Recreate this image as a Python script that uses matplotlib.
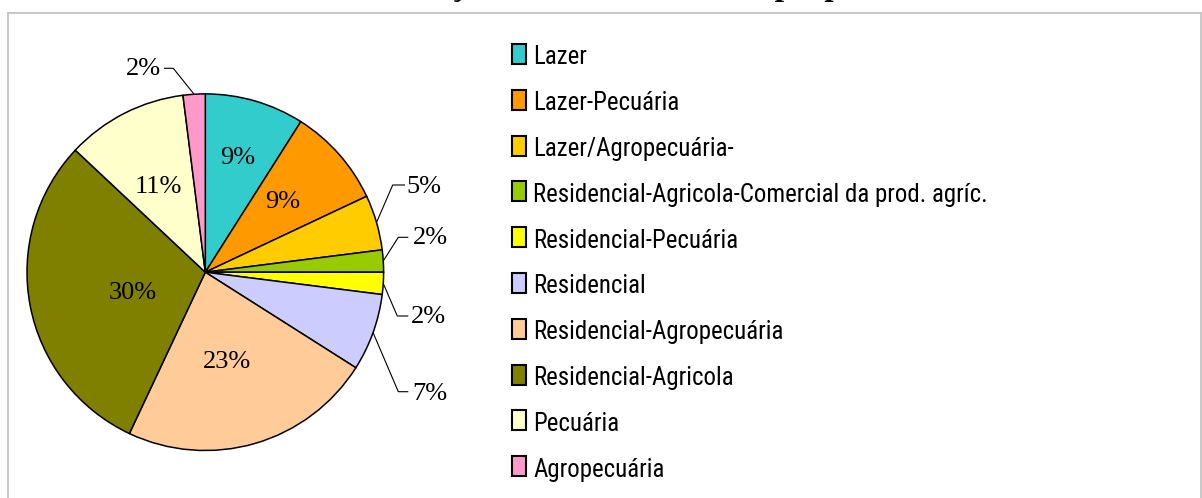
import matplotlib
matplotlib.use("Agg")
import os
import numpy as np
import matplotlib.pyplot as plt
from matplotlib import font_manager
from matplotlib.font_manager import FontProperties
from matplotlib.patches import Rectangle

# ---------------- data ----------------
categories = ["Lazer", "Lazer-Pecuária", "Lazer/Agropecuária-",
              "Residencial-Agricola-Comercial da prod. agríc.",
              "Residencial-Pecuária", "Residencial", "Residencial-Agropecuária",
              "Residencial-Agricola", "Pecuária", "Agropecuária"]
values = [9, 9, 5, 2, 2, 7, 23, 30, 11, 2]
colors = ["#33CCCC", "#FF9900", "#FFCC00", "#99CC00", "#FFFF00",
          "#CCCCFF", "#FFCC99", "#808000", "#FFFFCC", "#FF99CC"]
title = "Distribuição das atividades nas propriedades"

# ---------------- layout ----------------
W, H = 1202, 498
CX, CY, R = 205.3, 272.2, 178.3
inside_pos = {0: (238, 158), 1: (283, 202), 6: (227, 362), 7: (133, 293), 8: (158, 187)}
# elbow point, line end, label centre
outside_pos = {2: ((392.7, 185), (405, 185), (424, 187)),
               3: ((398.3, 237.3), (408.3, 237.3), (430, 238)),
               4: ((397.3, 316), (408.3, 316), (428, 317)),
               5: ((398.3, 391.7), (408.3, 391.7), (430, 394)),
               9: ((173.3, 68.3), (164, 68.3), (143, 69))}

fig = plt.figure(figsize=(W / 100, H / 100), dpi=100)
ax = fig.add_axes([0, 0, 1, 1])
wedges, _ = ax.pie(values, colors=colors, startangle=270, counterclock=True,
                   center=(CX, CY), radius=R,
                   wedgeprops=dict(edgecolor="black", linewidth=1.1))
ax.set_xlim(0, W)
ax.set_ylim(H, 0)
ax.set_aspect("auto")
ax.axis("off")

serif = "Liberation Serif"
for i, (w, v) in enumerate(zip(wedges, values)):
    lab = f"{v:.0f}%"
    if i in inside_pos:
        x, y = inside_pos[i]
        ax.text(x, y, lab, ha="center", va="center", fontsize=19, family=serif)
    else:
        th = np.deg2rad((w.theta1 + w.theta2) / 2)
        ex, ey = CX + R * np.cos(th), CY + R * np.sin(th)
        (bx, by), (tx, ty), (lx, ly) = outside_pos[i]
        ax.plot([ex, bx, tx], [ey, by, ty], color="black", lw=0.8, solid_capstyle="butt")
        ax.text(lx, ly, lab, ha="center", va="center", fontsize=19, family=serif)

# ---------------- frame ----------------
gray = "#C4C4C4"
ax.plot([8, W], [13, 13], color=gray, lw=1.3)
ax.plot([8, 8], [13, H], color=gray, lw=1.3)
ax.plot([W - 1, W - 1], [13, H], color=gray, lw=1.3)

# ---------------- legend font: prefer a narrow sans ----------------
prefs = ["liberationsansnarrow-regular", "arialnarrow", "notosans-condensed.",
         "robotocondensed-regular", "opensans_condensed-regular", "opensans-condensed",
         "dejavusanscondensed."]
files = [f.fname for f in font_manager.fontManager.ttflist]
leg_fp = None
for p in prefs:
    for fn in files:
        if os.path.basename(fn).lower().startswith(p):
            leg_fp = FontProperties(fname=fn)
            break
    if leg_fp is not None:
        break
if leg_fp is None:
    leg_fp = FontProperties(family="Liberation Sans")

renderer = fig.canvas.get_renderer()
step = 45.8
texts = []
for i, (c, lab) in enumerate(zip(colors, categories)):
    ax.add_patch(Rectangle((512, 44 + i * step), 14, 20, facecolor=c,
                           edgecolor="black", lw=1.5))
    t = ax.text(533, 64.3 + i * step, lab, ha="left", va="baseline",
                fontproperties=leg_fp, fontsize=19.5)
    texts.append(t)
maxw = max(t.get_window_extent(renderer).width for t in texts)
target = 457
if maxw > target:
    fs = max(19.5 * target / maxw, 17.5)
    for t in texts:
        t.set_fontsize(fs)

# ---------------- title (cropped at top) ----------------
def width(s, fs):
    t = fig.text(0, 0, s, fontsize=fs, family=serif, weight="bold")
    wd = t.get_window_extent(renderer).width
    t.remove()
    return wd

fs_t = 23.0
for _ in range(2):
    em = fs_t * 100 / 72
    w1 = width("Distribui", fs_t)
    w2 = width("Distribuiç", fs_t)
    wp = width("Distribuição das atividades nas ", fs_t)
    d_meas = wp - (w1 + w2) / 2
    d_want = 777 - 0.08 * em - 457
    fs_t *= d_want / d_meas
em = fs_t * 100 / 72
w1 = width("Distribui", fs_t)
w2 = width("Distribuiç", fs_t)
x0 = 457 - (w1 + w2) / 2
ax.text(x0, 2.2 - 0.217 * em, title, ha="left", va="baseline",
        fontsize=fs_t, family=serif, weight="bold")

fig.savefig("out.png", dpi=100)
